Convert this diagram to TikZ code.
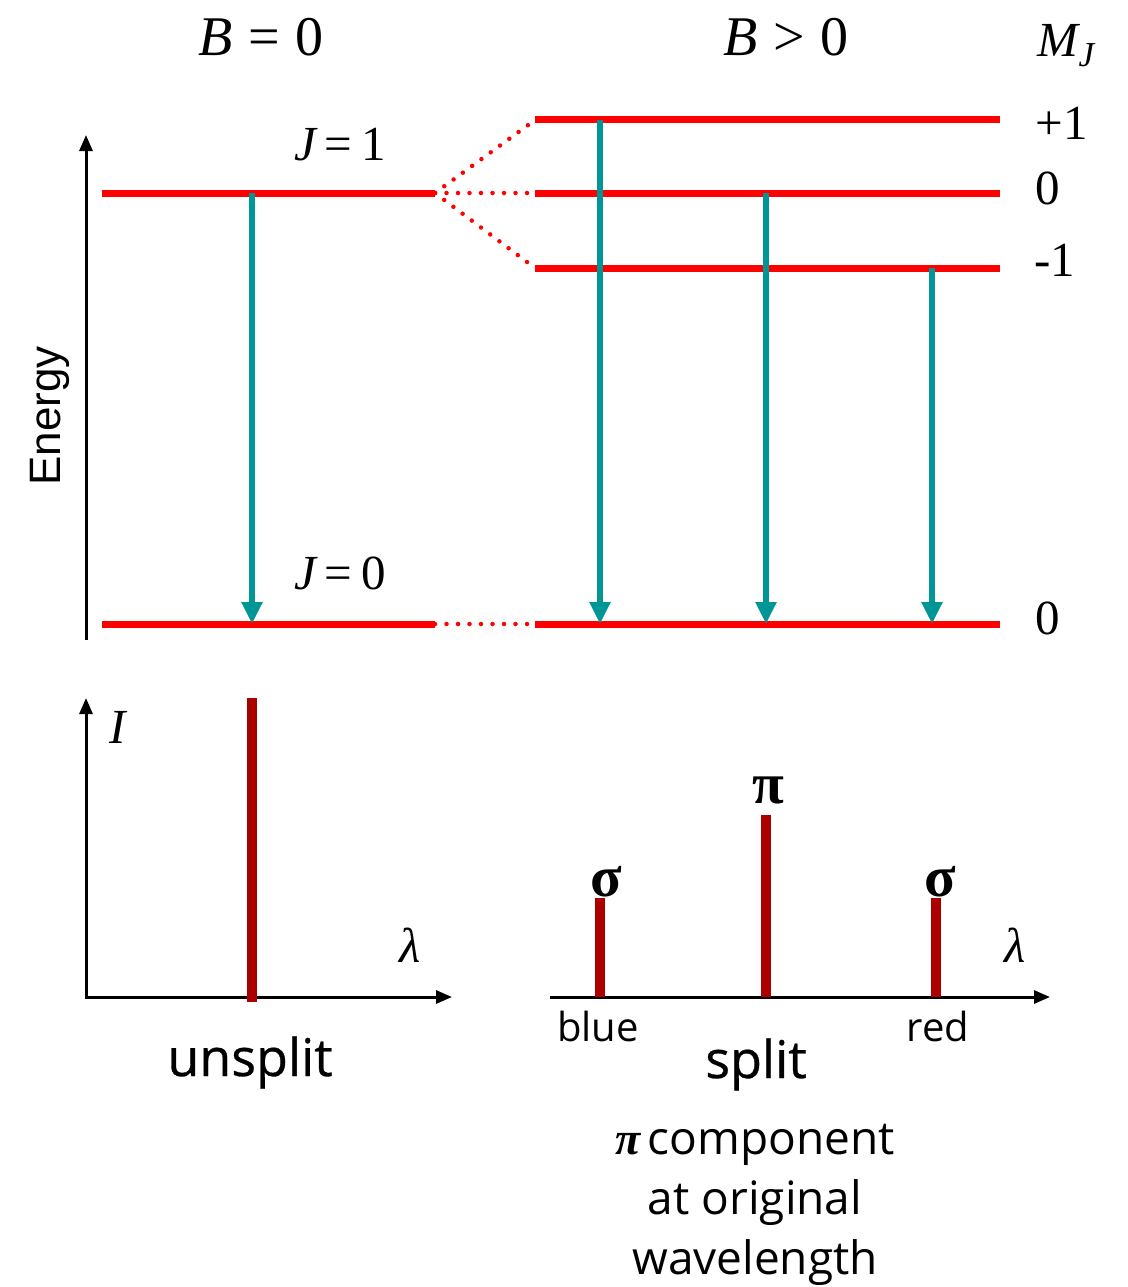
\documentclass[tikz,border=0pt]{standalone}
\usepackage{fontspec}
\newfontfamily\tim{Liberation Serif}
\newfontfamily\arialf{Liberation Sans}
\newfontfamily\osans{Open Sans}
\newfontfamily\osansm[FakeBold=0.6]{Open Sans}
\usetikzlibrary{arrows.meta}
\definecolor{lvl}{RGB}{255,0,0}
\definecolor{tealc}{RGB}{0,150,150}
\definecolor{barc}{RGB}{172,0,0}
\tikzset{
  level/.style={draw=lvl, line width=7pt},
  dotline/.style={draw=lvl, line width=4.5pt, line cap=round, dash pattern=on 0pt off 11.5pt},
  trans/.style={draw=tealc, line width=6pt, -{Triangle[length=22pt,width=20pt]}},
  axis/.style={draw=black, line width=3pt, -{Triangle[length=16pt,width=13pt]}},
  bar/.style={draw=barc, line width=10pt},
  mlab/.style={font=\tim\fontsize{56}{60}\selectfont, inner sep=0pt},
  jlab/.style={font=\tim\fontsize{49}{54}\selectfont, inner sep=0pt},
  slab/.style={font=\tim\bfseries\fontsize{58}{60}\selectfont, inner sep=0pt},
  txt/.style={font=\osansm\fontsize{52}{60}\selectfont, inner sep=0pt, anchor=base},
  small/.style={font=\osans\fontsize{40}{48}\selectfont, inner sep=0pt, anchor=base},
  note/.style={font=\osans\fontsize{46}{60}\selectfont, inner sep=0pt, align=center}
}
\begin{document}
\begin{tikzpicture}[x=1pt,y=-1pt]
\useasboundingbox (0,0) rectangle (1127,1287);

% coordinates
\coordinate (eb) at (86,640); \coordinate (et) at (86,135);
\coordinate (j1l) at (102,193); \coordinate (j1r) at (435,193);
\coordinate (j0l) at (102,624); \coordinate (j0r) at (435,624);
\coordinate (p1l) at (535,120); \coordinate (p1r) at (1000,120);
\coordinate (z1l) at (535,193); \coordinate (z1r) at (1000,193);
\coordinate (m1l) at (535,268); \coordinate (m1r) at (1000,268);
\coordinate (g0l) at (535,624); \coordinate (g0r) at (1000,624);

% energy axis
\draw[axis] (eb) -- (et);
\node[font=\arialf\fontsize{44}{50}\selectfont, rotate=90, inner sep=0pt] (en) at (50,416) {Energy};

% levels
\draw[level] (j1l) -- (j1r);
\draw[level] (j0l) -- (j0r);
\draw[level] (p1l) -- (p1r);
\draw[level] (z1l) -- (z1r);
\draw[level] (m1l) -- (m1r);
\draw[level] (g0l) -- (g0r);
\draw[dotline] (j1r) -- (p1l);
\draw[dotline] (j1r) -- (z1l);
\draw[dotline] (j1r) -- (m1l);
\draw[dotline] (j0r) -- (g0l);

% transitions
\coordinate (t1a) at (252,193); \coordinate (t1b) at (252,624);
\coordinate (t2a) at (600,120); \coordinate (t2b) at (600,624);
\coordinate (t3a) at (766,193); \coordinate (t3b) at (766,624);
\coordinate (t4a) at (932,268); \coordinate (t4b) at (932,624);
\draw[trans] (t1a) -- (t1b);
\draw[trans] (t2a) -- (t2b);
\draw[trans] (t3a) -- (t3b);
\draw[trans] (t4a) -- (t4b);

% labels top
\node[mlab] (bz) at (261,37) {\itshape B\upshape\hspace{0.28em}=\hspace{0.28em}0};
\node[mlab] (bg) at (786,37) {\itshape B\upshape\hspace{0.28em}>\hspace{0.28em}0};
\node[jlab] (mj) at (1066,46) {\itshape M\raisebox{-10pt}{\fontsize{35}{40}\selectfont J}};
\node[jlab] (lp1) at (1062,123) {+1};
\node[jlab] (lz) at (1048,188) {0};
\node[jlab] (lm1) at (1055,260) {-1};
\node[jlab] (lg) at (1048,618) {0};
\node[jlab] (jone) at (340,145) {\itshape J\upshape\hspace{0.18em}=\hspace{0.18em}1};
\node[jlab] (jzero) at (340,573) {\itshape J\upshape\hspace{0.18em}=\hspace{0.18em}0};

% lower left spectrum
\coordinate (lo) at (86,997); \coordinate (ly) at (86,698); \coordinate (lx) at (452,997);
\coordinate (lo2) at (86,998.5);
\draw[axis] (lo) -- (lx);
\draw[axis] (lo2) -- (ly);
\coordinate (b0a) at (252,698); \coordinate (b0b) at (252,1002);
\draw[bar] (b0a) -- (b0b);
\node[jlab] (ilab) at (118,727) {\itshape I};
\node[jlab] (lam1) at (410,945) {\itshape λ};
\node[txt] (uns) at (250,1076) {unsplit};

% lower right spectrum
\coordinate (ro) at (550,997); \coordinate (rx) at (1050,997);
\draw[axis] (ro) -- (rx);
\coordinate (s1a) at (600,898); \coordinate (s1b) at (600,997);
\coordinate (pia) at (766,815); \coordinate (pib) at (766,997);
\coordinate (s2a) at (936,898); \coordinate (s2b) at (936,997);
\draw[bar] (s1a) -- (s1b);
\draw[bar] (pia) -- (pib);
\draw[bar] (s2a) -- (s2b);
\node[slab] (sig1) at (606,882) {σ};
\node[slab] (pil) at (768,790) {π};
\node[slab] (sig2) at (940,882) {σ};
\node[jlab] (lam2) at (1015,945) {\itshape λ};
\node[small] (blue) at (598,1041) {blue};
\node[small] (red) at (938,1041) {red};
\node[txt] (spl) at (756,1078) {split};
\node[note] (nt) at (755,1205) {{\tim\bfseries\itshape π}\,component\\at original\\wavelength};
\end{tikzpicture}
\end{document}
